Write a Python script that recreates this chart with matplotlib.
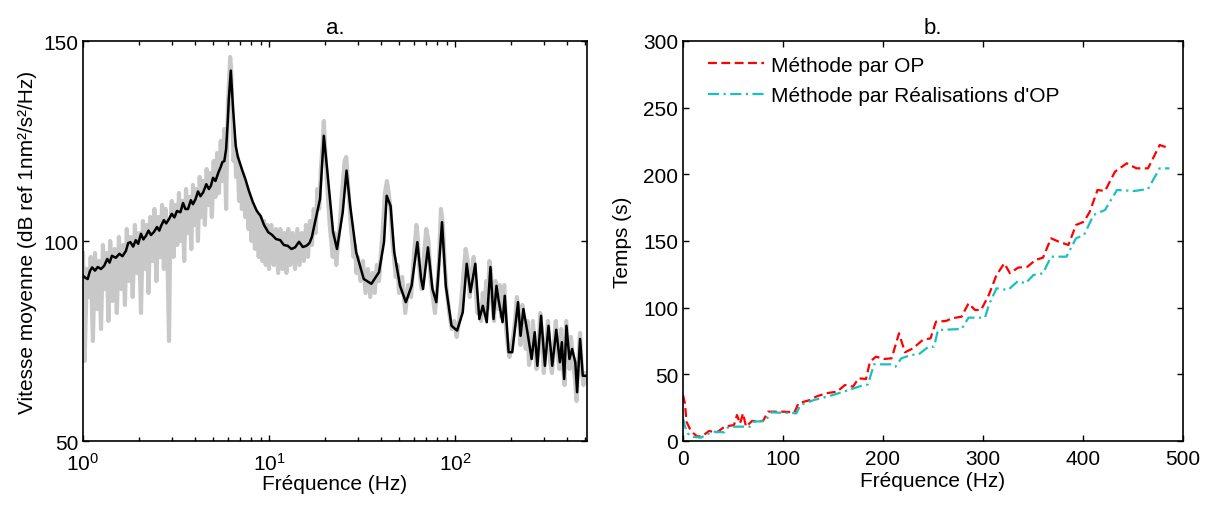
import matplotlib
matplotlib.use('Agg')
import matplotlib.pyplot as plt
from matplotlib.ticker import LogLocator, NullFormatter

plt.rcParams['font.family'] = ['Liberation Sans', 'DejaVu Sans']
plt.rcParams['mathtext.default'] = 'regular'
plt.rcParams['font.size'] = 15

# --- panel a : spectre moyen (gris = brut, noir = lissé) ---
gray_f = [1.00, 1.02, 1.05, 1.08, 1.10, 1.13, 1.16, 1.19, 1.22, 1.25, 1.28, 1.31, 1.34, 1.37,
          1.40, 1.44, 1.48, 1.52, 1.56, 1.60, 1.64, 1.68, 1.72, 1.76, 1.80, 1.85, 1.90, 1.95,
          2.00, 2.05, 2.10, 2.15, 2.20, 2.25, 2.30, 2.36, 2.42, 2.48, 2.54, 2.60, 2.66, 2.72,
          2.78, 2.84, 2.90, 2.95, 3.00, 3.07, 3.14, 3.21, 3.28, 3.35, 3.42, 3.50, 3.58, 3.66,
          3.74, 3.82, 3.90, 3.98, 4.06, 4.15, 4.24, 4.33, 4.42, 4.52, 4.62, 4.72, 4.82, 4.93,
          5.04, 5.15, 5.26, 5.38, 5.50, 5.62, 5.75, 5.88, 5.95, 6.02, 6.10, 6.18, 6.26, 6.35,
          6.45, 6.55, 6.65, 6.78, 6.90, 7.02, 7.15, 7.30, 7.45, 7.60, 7.75, 7.90, 8.05, 8.20,
          8.40, 8.60, 8.80, 9.00, 9.20, 9.40, 9.60, 9.80, 10.0, 10.3, 10.6, 10.9, 11.2, 11.5,
          11.8, 12.1, 12.4, 12.7, 13.0, 13.4, 13.8, 14.2, 14.6, 15.0, 15.4, 15.8, 16.2, 16.6,
          17.0, 17.4, 17.8, 18.2, 18.6, 19.0, 19.4, 19.7, 20.0, 20.4, 20.8, 21.2, 21.6, 22.0,
          22.5, 23.0, 23.5, 24.0, 24.5, 25.0, 25.5, 26.0, 26.5, 27.0, 27.5, 28.0, 28.5, 29.0,
          29.5, 30, 31, 32, 33, 34, 35, 36, 37, 38, 39, 40, 41, 42, 43, 44, 45, 46, 47, 48, 49,
          50, 52, 54, 56, 58, 60, 62, 63, 64, 66, 68, 70, 72, 74, 76, 78, 80, 82, 84, 86, 88,
          90, 93, 96, 99, 102, 105, 108, 111, 114, 117, 120, 123, 126, 129, 132, 135, 138, 141,
          144, 147, 150, 153, 156, 159, 162, 165, 168, 171, 174, 177, 180, 184, 188, 192, 196,
          200, 205, 210, 215, 220, 225, 230, 235, 240, 245, 250, 256, 262, 268, 274, 280, 287,
          294, 300, 308, 316, 324, 332, 340, 348, 356, 364, 372, 380, 388, 396, 404, 412, 420,
          430, 440, 450, 460, 470, 480, 490, 500, 510]
gray_db = [97, 70, 93, 86, 96, 75, 97, 83, 95, 78, 99, 88, 97, 80,
           100, 85, 98, 82, 101, 88, 99, 84, 103, 90, 101, 86, 104, 92,
           102, 82, 105, 93, 104, 87, 106, 95, 108, 90, 106, 96, 109, 93,
           108, 98, 75, 104, 110, 96, 109, 99, 112, 100, 110, 95, 113, 102,
           111, 98, 114, 104, 113, 100, 116, 106, 115, 104, 118, 109, 117, 106,
           120, 111, 122, 112, 125, 115, 128, 108, 124, 135, 140, 146, 143, 132,
           120, 125, 116, 121, 110, 118, 108, 116, 106, 113, 103, 111, 100, 109,
           98, 107, 96, 106, 95, 105, 94, 104, 93, 104, 94, 103, 92, 103,
           93, 102, 92, 103, 94, 102, 93, 103, 94, 102, 95, 104, 96, 105,
           99, 108, 102, 113, 108, 118, 124, 130, 124, 116, 110, 104, 100, 96,
           102, 94, 100, 104, 110, 115, 120, 121, 115, 110, 104, 100, 96, 99,
           92, 96, 90, 95, 87, 93, 86, 92, 87, 94, 90, 97, 104, 112, 115, 112, 108, 100, 96, 91, 94,
           87, 91, 82, 89, 86, 96, 104, 101, 94, 88, 96, 103, 100, 90, 86, 82, 88, 95, 108, 104, 94,
           88, 82, 78, 80, 76, 80, 85, 92, 98, 95, 86, 92, 96, 88, 82, 84, 80, 87,
           82, 90, 83, 95, 92, 84, 80, 90, 86, 83, 89, 81, 86, 89, 78, 74, 71,
           73, 76, 80, 86, 82, 74, 84, 79, 73, 80, 69, 72, 80, 74, 68, 72, 82,
           76, 67, 74, 80, 70, 67, 74, 80, 72, 68, 78, 69, 64, 80, 74, 68, 76,
           70, 66, 60, 70, 77, 68, 64, 67, 65]

black_f = [1.00, 1.03, 1.06, 1.09, 1.12, 1.16, 1.20, 1.25, 1.30, 1.35, 1.39, 1.43, 1.50, 1.57,
           1.63, 1.70, 1.75, 1.80, 1.86, 1.92, 1.98, 2.05, 2.11, 2.18, 2.25, 2.32, 2.40, 2.50,
           2.57, 2.63, 2.72, 2.80, 2.90, 3.00, 3.10, 3.20, 3.34, 3.45, 3.55, 3.67, 3.80, 3.90,
           4.03, 4.15, 4.28, 4.43, 4.60, 4.75, 4.87, 5.00, 5.15, 5.35, 5.50, 5.61, 5.75, 5.88,
           6.00, 6.08, 6.23, 6.41, 6.62, 6.80, 6.95, 7.20, 7.46, 7.80, 8.19, 8.60, 9.0, 9.4,
           9.9, 10.4, 10.9, 11.5, 12.0, 12.6, 13.2, 13.8, 14.5, 15.2, 15.9, 16.5, 17.0, 17.5,
           18.8, 19.7, 20.6, 22.1, 23.2, 24.9, 26.1, 27.3,
           29.4, 32.3, 35.5, 39.0, 41.5, 42.9, 45.0, 47.1, 50.6, 54.4, 58.4, 62.7, 65.7, 67.3,
           71.5, 75.6, 79.3, 85.1, 89.2, 95.7, 102.6, 110, 115.5, 121, 128.5, 135, 141, 148,
           155, 161, 167, 171, 180, 185, 194, 203, 218, 225, 233, 245, 258, 268, 277, 290,
           304, 318, 333, 350, 366, 375, 386, 397, 412, 426, 443, 453, 470, 486, 508]
black_db = [91.3, 90.8, 90.5, 92.5, 93.4, 92.6, 93.5, 93.0, 93.8, 95.5, 94.6, 96.3, 95.8, 96.8,
            96.2, 97.5, 99.5, 99.7, 98.6, 100.2, 99.3, 101.8, 100.4, 101.3, 102.6, 101.5, 102.2, 103.5,
            102.6, 103.8, 105.2, 104.4, 105.5, 106.8, 105.9, 107.5, 107.2, 109.5, 108.0, 108.0, 110.2, 109.2,
            110.5, 112.4, 111.2, 112.2, 114.2, 113.0, 113.8, 115.8, 115.0, 117.2, 118.5, 119.7, 120.0, 123.0,
            130.0, 135.5, 142.6, 133.0, 123.8, 121.0, 119.7, 117.5, 115.5, 112.5, 109.7, 107.5, 106.3, 104.0,
            102.2, 101.5, 100.5, 100.2, 99.0, 98.8, 98.0, 98.4, 99.8, 98.5, 98.8, 99.5, 101.0, 103.8,
            110.5, 126.3, 117.2, 102.2, 98.0, 107.2, 117.6, 108.8,
            97.2, 90.5, 89.3, 92.2, 99.7, 111.3, 108.8, 97.2, 88.8, 84.7, 88.8, 99.7, 90.5, 88.0,
            98.4, 88.0, 84.7, 104.7, 88.8, 78.8, 77.6, 82.2, 94.3, 87.2, 94.3, 80.5, 83.8, 79.7,
            93.5, 80.5, 88.8, 85.5, 79.7, 86.3, 72.2, 72.2, 84.7, 76.3, 83.0, 77.2, 70.5, 77.2, 68.8, 81.3,
            68.8, 78.8, 68.8, 77.8, 69.7, 74.7, 65.5, 78.8, 70.5, 73.0, 69.7, 62.2, 75.5, 66.3, 66.3]

# --- panel b : temps de calcul ---
op_f = [0, 2, 3.5, 6.6, 10.5, 14.4, 20, 26, 34, 41.6, 51, 54, 57, 60, 63, 69, 80, 85, 100,
        111.5, 115.4, 127, 133, 142.6, 154, 162, 170, 175.6, 183, 187, 193, 201, 208.6, 216,
        222, 230, 239.7, 247.5, 253, 263, 269, 278.6, 285.5, 292, 298, 305.8, 313.5, 321.3,
        327, 335, 344.6, 352.4, 360, 368, 375.7, 385.4, 393, 401, 406.8, 414.5, 422, 432,
        443.7, 453.4, 465, 476.7, 486.4]
op_t = [34.5, 28, 14.5, 9.5, 5.75, 3.25, 4, 7.5, 6.5, 10.75, 12, 19.5, 13, 20.75, 10.75, 15, 15, 22, 22,
        21.5, 28.25, 30.75, 33.25, 35.75, 37, 42, 40.75, 47, 46.5, 59.5, 63.25, 61.5, 62, 80.75,
        66.5, 69.5, 75.75, 77, 89.5, 90, 92, 93.25, 103.25, 98.25, 98.25, 109.5, 124.5, 133.25,
        125.75, 130, 130.75, 135.75, 137.5, 152, 149.5, 147, 162, 164.5, 172, 188.25, 187.5, 202,
        208.25, 204.5, 204.5, 222, 219.5]

real_f = [0, 2, 4.7, 8.5, 18, 24, 30, 41.6, 45.5, 61, 67, 70.7, 82.4, 88, 113.4, 117.3, 131,
          150, 166, 175.6, 185, 191, 208.6, 212.5, 218.3, 228, 235.8, 245.5, 251, 255, 278.6,
          285.5, 302, 305.8, 313.5, 325, 335, 342.6, 350.4, 360, 368, 383.5, 393, 401, 410.6,
          422, 434, 451.4, 465, 476.7, 486.4]
real_t = [17, 10.75, 5.75, 3.25, 2.5, 5, 7, 6.5, 10.75, 10.75, 10.75, 14.5, 15, 21.5, 20.75, 27, 30.75,
          34.5, 38.25, 40.75, 42.5, 57.5, 57.5, 55.75, 62, 64.5, 65, 70.75, 70.75, 83.25, 84,
          92.5, 92.5, 102, 114.5, 113.25, 120, 118.25, 124.5, 125.75, 138.25, 138.25, 152, 154.5, 169.5,
          173.25, 188.25, 187.5, 189, 204.5, 204.5]

W, H = 1211, 506
fig = plt.figure(figsize=(W / 100, H / 100), dpi=100)
ax1 = fig.add_axes([83 / W, (H - 442) / H, 504 / W, 400 / H])
ax2 = fig.add_axes([683 / W, (H - 442) / H, 500 / W, 400 / H])

# a.
ax1.semilogx(gray_f, gray_db, color='#c8c8c8', linewidth=3)
ax1.semilogx(black_f, black_db, color='black', linewidth=1.8)
ax1.set_xlim(1, 512)
ax1.set_ylim(50, 150)
ax1.set_yticks([50, 100, 150])
ax1.xaxis.set_major_locator(LogLocator(base=10, numticks=10))
ax1.xaxis.set_minor_locator(LogLocator(base=10, subs=range(2, 10), numticks=20))
ax1.xaxis.set_minor_formatter(NullFormatter())
ax1.tick_params(axis='x', pad=8)
ax1.set_xlabel('Fréquence (Hz)', labelpad=0)
ax1.set_ylabel('Vitesse moyenne (dB ref 1nm²/s²/Hz)', labelpad=4)
ax1.set_title('a.', fontsize=16, pad=6)

# b.
ax2.plot(op_f, op_t, color='#ff0000', linestyle=(0, (4, 2)), linewidth=1.6,
         label='Méthode par OP')
ax2.plot(real_f, real_t, color='#1bbfbf', linestyle=(0, (5, 2, 1, 2)), linewidth=1.6,
         label="Méthode par Réalisations d'OP")
ax2.set_xlim(0, 500)
ax2.set_ylim(0, 300)
ax2.set_xticks(range(0, 501, 100))
ax2.set_yticks(range(0, 301, 50))
ax2.tick_params(axis='x', pad=6)
ax2.set_xlabel('Fréquence (Hz)', labelpad=2)
ax2.set_ylabel('Temps (s)', labelpad=8)
ax2.set_title('b.', fontsize=16, pad=6)
ax2.legend(loc='upper left', frameon=False, handlelength=2.7, handletextpad=0.35,
           labelspacing=0.55, borderaxespad=0.3, fontsize=15, bbox_to_anchor=(0.02, 1.0))

for ax in (ax1, ax2):
    ax.tick_params(which='both', direction='in', top=True, right=True, length=4, width=1)
    ax.tick_params(which='minor', length=3)
    for s in ax.spines.values():
        s.set_linewidth(1.2)

plt.savefig('out.png', dpi=100)
plt.close()
